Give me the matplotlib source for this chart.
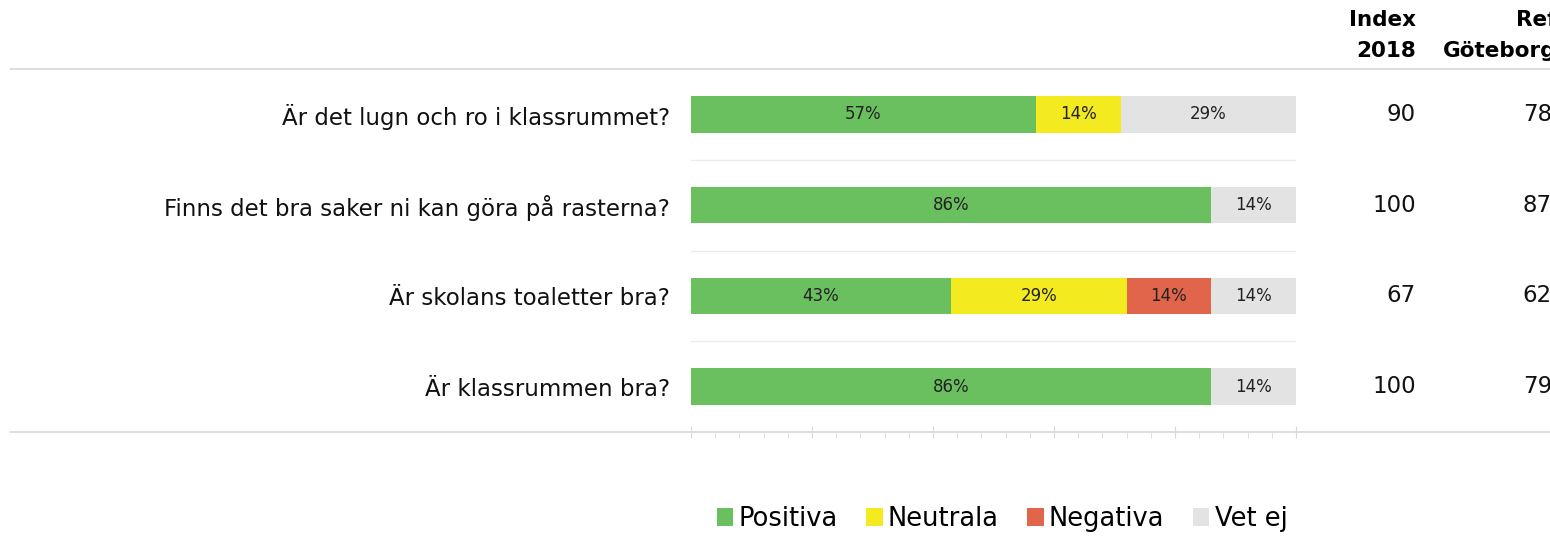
import matplotlib.pyplot as plt
from matplotlib.lines import Line2D
from matplotlib.patches import Patch
from matplotlib import transforms
from matplotlib.ticker import MultipleLocator

questions = ['Är det lugn och ro i klassrummet?',
             'Finns det bra saker ni kan göra på rasterna?',
             'Är skolans toaletter bra?',
             'Är klassrummen bra?']
positiva = [57, 86, 43, 86]
neutrala = [14, 0, 29, 0]
negativa = [0, 0, 14, 0]
vet_ej = [29, 14, 14, 14]
index_2018 = [90, 100, 67, 100]
ref_goteborg = [78, 87, 62, 79]

series = ['Positiva', 'Neutrala', 'Negativa', 'Vet ej']
colors = ['#6abf5f', '#f3eb1f', '#e0654a', '#e3e3e3']

plt.rcParams['font.family'] = ['DejaVu Sans']

W, H = 1550, 536
fig = plt.figure(figsize=(W / 100, H / 100), dpi=100)
ax = fig.add_axes([691 / W, 1 - 432 / H, 605 / W, 363 / H])

# Stacked bars
left = [0] * len(questions)
for name, vals, col in zip(series, [positiva, neutrala, negativa, vet_ej], colors):
    bars = ax.barh(range(len(questions)), vals, left=left, height=0.4,
                   color=col, label=name)
    labels = [f'{v}%' if v > 0 else '' for v in vals]
    ax.bar_label(bars, labels=labels, label_type='center', fontsize=12,
                 color='#222222')
    left = [a + b for a, b in zip(left, vals)]

ax.set_xlim(0, 100)
ax.set_ylim(3.5, -0.5)
ax.set_yticks(range(len(questions)))
ax.set_yticklabels(questions, fontsize=16.5, color='#111111')
ax.tick_params(axis='y', length=0, pad=15)

# Light separators between rows
for y in [0.5, 1.5, 2.5]:
    ax.axhline(y, color='#ebebeb', lw=1)

for s in ax.spines.values():
    s.set_visible(False)

ax.xaxis.set_major_locator(MultipleLocator(20))
ax.xaxis.set_minor_locator(MultipleLocator(4))
ax.tick_params(axis='x', which='major', direction='inout', length=9,
               color='#d9d9d9', labelbottom=False)
ax.tick_params(axis='x', which='minor', direction='out', length=4,
               color='#d9d9d9')

# Full-width horizontal rules
for yp in [69, 432]:
    fig.add_artist(Line2D([11 / W, 1], [1 - yp / H, 1 - yp / H],
                          color='#dedede', lw=1.5, transform=fig.transFigure))

# Extra columns
tr = transforms.blended_transform_factory(fig.transFigure, ax.transData)
for i in range(len(questions)):
    fig.text(1416 / W, i, str(index_2018[i]), transform=tr, ha='right',
             va='center', fontsize=16.5, color='#111111')
    fig.text(1552 / W, i, str(ref_goteborg[i]), transform=tr, ha='right',
             va='center', fontsize=16.5, color='#111111')

# Column headers
fig.text(1416 / W, 1 - 20 / H, 'Index', ha='right', va='center',
         fontsize=15.5, fontweight='bold')
fig.text(1416 / W, 1 - 51 / H, '2018', ha='right', va='center',
         fontsize=15.5, fontweight='bold')
fig.text(1556 / W, 1 - 20 / H, 'Ref', ha='right', va='center',
         fontsize=15.5, fontweight='bold')
fig.text(1556 / W, 1 - 51 / H, 'Göteborg', ha='right', va='center',
         fontsize=15.5, fontweight='bold')

# Legend
handles = [Patch(facecolor=c, label=n) for n, c in zip(series, colors)]
fig.legend(handles=handles, loc='lower center', bbox_to_anchor=(1002 / W, -0.012),
           ncol=4, frameon=False, fontsize=18.5, handlelength=0.65,
           handleheight=0.7, handletextpad=0.2, columnspacing=1.1,
           borderaxespad=0)

fig.savefig('out.png', dpi=100)
